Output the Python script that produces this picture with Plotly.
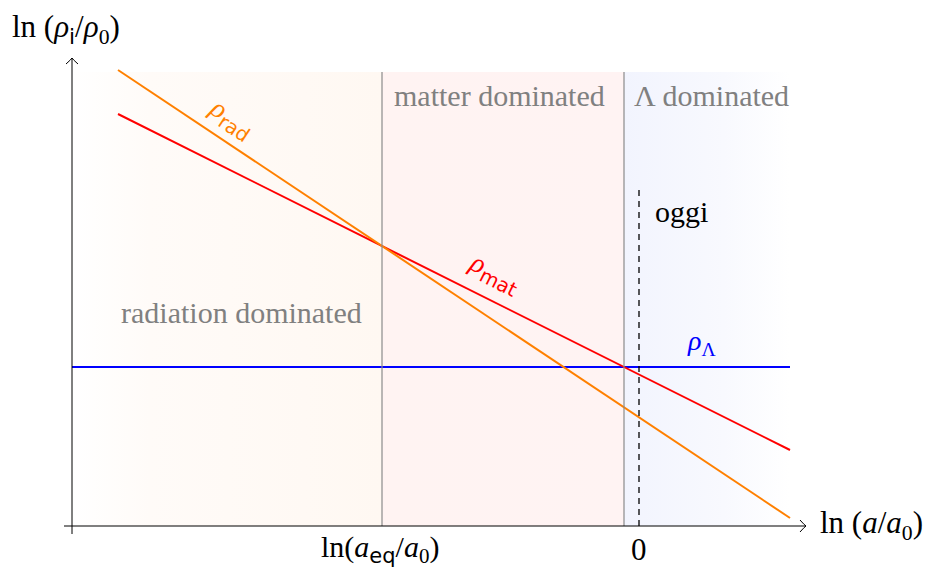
import plotly.graph_objects as go

# ln(a/a0) at the ends of the drawn curves
x_ends = [-5.21, 1.51]
x_ends_lambda = [-5.67, 1.51]
# ln(rho_i/rho_0) at those ends
ln_rho_rad = [2.97, -1.51]
ln_rho_mat = [2.53, -0.83]
ln_rho_lambda = [0.0, 0.0]

# epoch boundaries on the ln(a/a0) axis
x_eq = -2.57        # radiation-matter equality
x_mL = -0.15        # matter-Lambda equality
x_today = 0.0       # today

# plot frame (data units)
x_axis_y = -1.59
y_axis_x = -5.67
shade_top = 2.95
shade_right = 1.51

X_RANGE = [-6.39, 2.94]
Y_RANGE = [-2.03, 3.67]

SERIF = "Liberation Serif"
SANS = "DejaVu Sans"
ORANGE = "#ff8000"
RED = "#ff0000"
BLUE = "#0000ff"
GRAY = "#8a8a8a"
TXTGRAY = "#808080"

fig = go.Figure()


def region(x0, x1, stops):
    fig.add_trace(go.Scatter(
        x=[x0, x1, x1, x0, x0],
        y=[x_axis_y, x_axis_y, shade_top, shade_top, x_axis_y],
        fill="toself", mode="none", hoverinfo="skip", showlegend=False,
        fillgradient=dict(type="horizontal", colorscale=stops),
    ))


region(y_axis_x, x_eq, [[0, "#ffffff"], [0.25, "#fffbf8"], [1, "#fff8f2"]])
region(x_eq, x_mL, [[0, "#fff3f2"], [1, "#fff3f3"]])
region(x_mL, shade_right, [[0, "#f2f4fe"], [0.6, "#f8f9fe"], [1, "#ffffff"]])

# epoch separators
for xb in (x_eq, x_mL):
    fig.add_shape(type="line", x0=xb, x1=xb, y0=x_axis_y, y1=shade_top,
                  line=dict(color=GRAY, width=1.2))

# today
fig.add_shape(type="line", x0=x_today, x1=x_today, y0=x_axis_y, y1=1.82,
              line=dict(color="black", width=1.3, dash="6px,5px"))

# density curves
fig.add_trace(go.Scatter(x=x_ends_lambda, y=ln_rho_lambda, mode="lines",
                         line=dict(color=BLUE, width=2), showlegend=False))
fig.add_trace(go.Scatter(x=x_ends, y=ln_rho_mat, mode="lines",
                         line=dict(color=RED, width=2), showlegend=False))
fig.add_trace(go.Scatter(x=x_ends, y=ln_rho_rad, mode="lines",
                         line=dict(color=ORANGE, width=2), showlegend=False))

# axes with arrow tips
x_tip = 1.67
y_tip = 3.09
fig.add_shape(type="line", x0=-5.75, x1=x_tip, y0=x_axis_y, y1=x_axis_y,
              line=dict(color="black", width=1))
fig.add_shape(type="line", x0=y_axis_x, x1=y_axis_x, y0=-1.67, y1=y_tip,
              line=dict(color="black", width=1))
h = 0.06
fig.add_shape(type="path",
              path=f"M {x_tip-h},{x_axis_y+h} Q {x_tip-h*0.3},{x_axis_y+h*0.2} {x_tip},{x_axis_y} "
                   f"Q {x_tip-h*0.3},{x_axis_y-h*0.2} {x_tip-h},{x_axis_y-h}",
              line=dict(color="black", width=1))
fig.add_shape(type="path",
              path=f"M {y_axis_x-h},{y_tip-h} Q {y_axis_x-h*0.2},{y_tip-h*0.3} {y_axis_x},{y_tip} "
                   f"Q {y_axis_x+h*0.2},{y_tip-h*0.3} {y_axis_x+h},{y_tip-h}",
              line=dict(color="black", width=1))


def sans(s):
    return f'<span style="font-family:{SANS}">{s}</span>'


def label(x, y, text, color="black", size=30, angle=0, xanchor="center", yanchor="middle"):
    fig.add_annotation(x=x, y=y, text=text, showarrow=False, textangle=angle,
                       xanchor=xanchor, yanchor=yanchor,
                       font=dict(family=SERIF, size=size, color=color))


# curve labels
label(-4.08, 2.48, f"<i>ρ</i><sub>{sans('rad')}</sub>", ORANGE, 28, 33.7)
label(-1.44, 0.93, f"<i>ρ</i><sub>{sans('mat')}</sub>", RED, 28, 26.6)
label(0.62, 0.25, "<i>ρ</i><sub>Λ</sub>", BLUE, 28)

# epoch labels
label(-3.98, 0.55, "radiation dominated", TXTGRAY, 30)
label(-1.40, 2.72, "matter dominated", TXTGRAY, 30)
label(0.72, 2.72, "Λ dominated", TXTGRAY, 30)
label(0.42, 1.56, "oggi", "black", 30)

# axis titles and ticks
label(-6.29, 3.38, f"ln (<i>ρ</i><sub>{sans('i')}</sub>/<i>ρ</i><sub>0</sub>)", "black", 31,
      xanchor="left")
label(1.79, -1.58, "ln (<i>a</i>/<i>a</i><sub>0</sub>)", "black", 31, xanchor="left")
label(-2.59, -1.82, f"ln(<i>a</i><sub>{sans('eq')}</sub>/<i>a</i><sub>0</sub>)", "black", 30)
label(x_today, -1.82, "0", "black", 31)

fig.update_layout(
    width=933, height=570,
    margin=dict(l=0, r=0, t=0, b=0),
    paper_bgcolor="white", plot_bgcolor="white",
    xaxis=dict(range=X_RANGE, visible=False, fixedrange=True),
    yaxis=dict(range=Y_RANGE, visible=False, fixedrange=True),
    showlegend=False,
)

fig.write_html("out.html")
